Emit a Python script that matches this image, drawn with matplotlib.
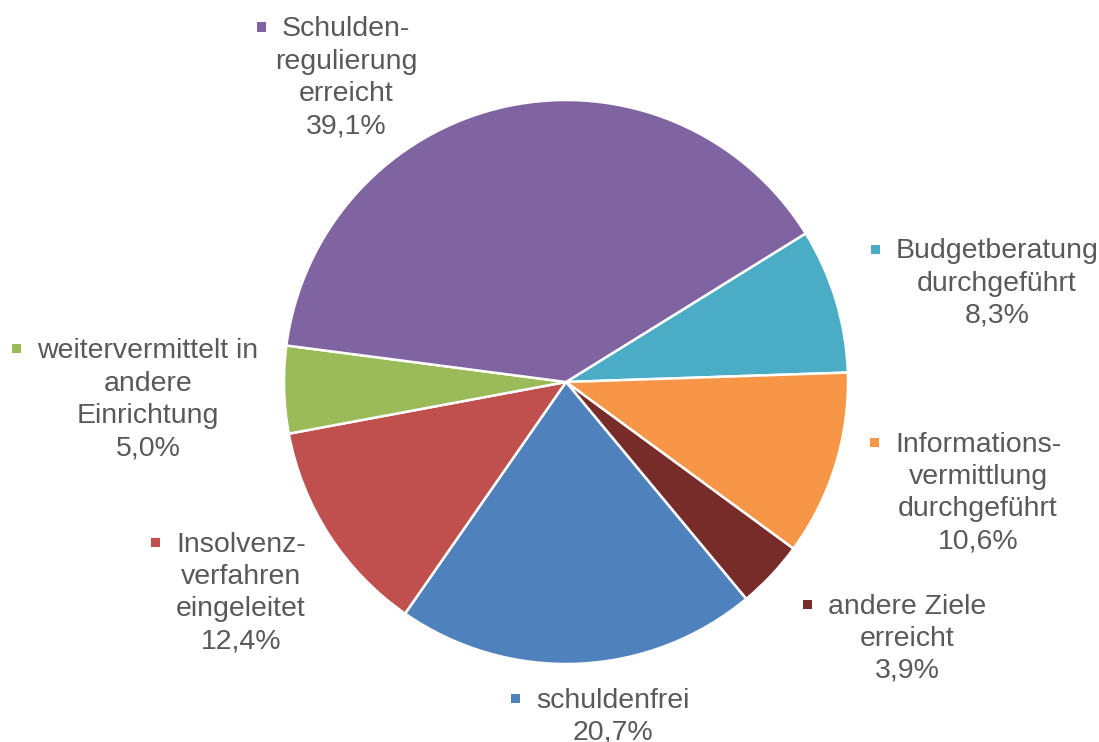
import matplotlib
matplotlib.use("Agg")
import matplotlib.pyplot as plt
from matplotlib.patches import Rectangle

categories = ["Budgetberatung\ndurchgeführt", "Informations-\nvermittlung\ndurchgeführt",
              "andere Ziele\nerreicht", "schuldenfrei", "Insolvenz-\nverfahren\neingeleitet",
              "weitervermittelt in\nandere\nEinrichtung", "Schulden-\nregulierung\nerreicht"]
values = [8.3, 10.6, 3.9, 20.7, 12.4, 5.0, 39.1]
colors = ["#4BACC6", "#F79646", "#772C2A", "#4F81BD", "#C0504D", "#9BBB59", "#8064A2"]
value_labels = ["8,3%", "10,6%", "3,9%", "20,7%", "12,4%", "5,0%", "39,1%"]

# label layout: centre x of text block, y of first line centre (pixels from top)
label_pos = [(997, 249), (978, 442), (907, 604), (613, 698), (241, 542), (148, 349), (346, 27)]

W, H = 1099, 742
fig = plt.figure(figsize=(W / 100, H / 100), dpi=100)
plt.rcParams['font.family'] = ['Liberation Sans', 'DejaVu Sans']

cx, cy, r = 566, 382, 282
ax = fig.add_axes([(cx - r) / W, (H - cy - r) / H, 2 * r / W, 2 * r / H])
ax.pie(values, colors=colors, startangle=31.8, counterclock=False,
       wedgeprops=dict(edgecolor="white", linewidth=1.8))
ax.set_xlim(-1, 1)
ax.set_ylim(-1, 1)
ax.set_aspect("equal")
ax.axis("off")

fs = 20.5
tcol = "#595959"
fig.canvas.draw()
renderer = fig.canvas.get_renderer()
for cat, val, col, (px, py) in zip(categories, value_labels, colors, label_pos):
    txt = cat + "\n" + val
    fig.text(px / W, (H - py + 10.5) / H, txt, ha="center", va="top",
             multialignment="center", fontsize=fs, color=tcol, linespacing=1.31)
    first = cat.split("\n")[0]
    t = fig.text(0, 0, first, fontsize=fs)
    bb = t.get_window_extent(renderer=renderer)
    t.remove()
    left = px - bb.width / 2
    ms = 9
    mx = left - 16 - ms
    my = py - ms / 2
    fig.patches.append(Rectangle((mx / W, (H - my - ms) / H), ms / W, ms / H,
                                 transform=fig.transFigure, facecolor=col, edgecolor="none"))

fig.savefig("out.png", dpi=100, facecolor="white")
